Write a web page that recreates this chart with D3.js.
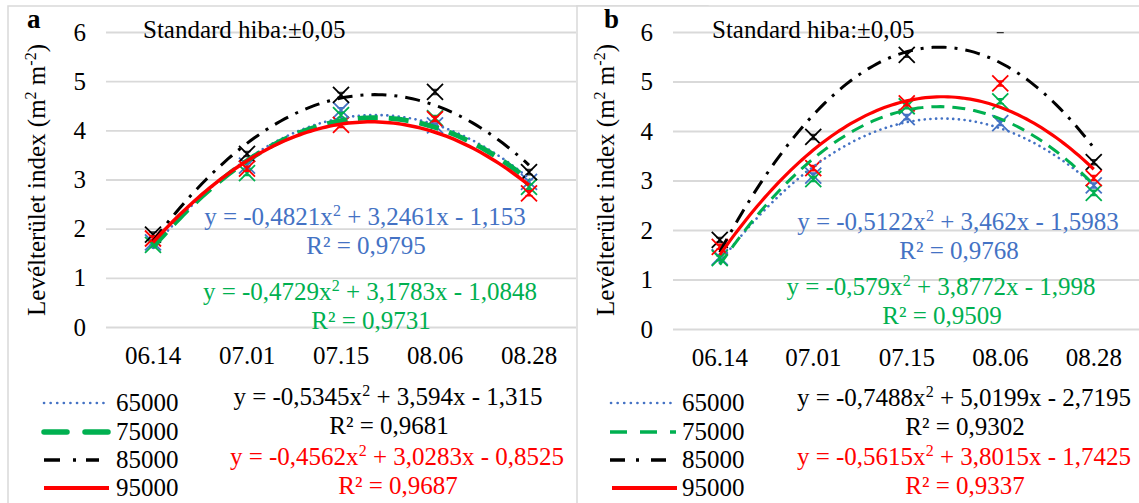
<!DOCTYPE html>
<html><head><meta charset="utf-8">
<script src="https://cdn.jsdelivr.net/npm/d3@7"></script>
<style>body{margin:0;background:#fff} svg{display:block} text{font-family:"Liberation Serif","Times New Roman",serif}</style>
</head><body><svg id="c" width="1139" height="503"></svg>
<script>
// ---------------- DATA ----------------
const categories = ["06.14", "07.01", "07.15", "08.06", "08.28"];
const seriesNames = ["65000", "75000", "85000", "95000"];
const yTicks = [0, 1, 2, 3, 4, 5, 6];

// panel a measured values
const a65000 = [1.72, 3.28, 4.41, 4.10, 2.95];
const a75000 = [1.67, 3.13, 4.31, 4.25, 2.85];
const a85000 = [1.88, 3.52, 4.72, 4.78, 3.15];
const a95000 = [1.80, 3.22, 4.11, 4.23, 2.72];
// panel b measured values
const b65000 = [1.45, 3.10, 4.28, 4.16, 2.90];
const b75000 = [1.43, 3.03, 4.50, 4.60, 2.75];
const b85000 = [1.80, 3.88, 5.54, 6.04, 3.37];
const b95000 = [1.66, 3.25, 4.56, 4.96, 3.05];

// polynomial trendline coefficients shown on the chart [x², x, const]
const aTrend65000 = [-0.4821, 3.2461, -1.153];
const aTrend75000 = [-0.4729, 3.1783, -1.0848];
const aTrend85000 = [-0.5345, 3.594, -1.315];
const aTrend95000 = [-0.4562, 3.0283, -0.8525];
const bTrend65000 = [-0.5122, 3.462, -1.5983];
const bTrend75000 = [-0.579, 3.8772, -1.998];
const bTrend85000 = [-0.7488, 5.0199, -2.7195];
const bTrend95000 = [-0.5615, 3.8015, -1.7425];
const aR2 = ["0,9795", "0,9731", "0,9681", "0,9687"];
const bR2 = ["0,9768", "0,9509", "0,9302", "0,9337"];

const standardError = 0.05;
const noteText = "Standard hiba:±0,05";
const panelLetters = ["a", "b"];

// ---------------- STYLE / LAYOUT ----------------
const colors = ["#4472C4", "#00B050", "#000000", "#FF0000"];
const FONT = 25;
const SERIF = '"Liberation Serif","Times New Roman",serif';
const svg = d3.select("#c");
svg.append("rect").attr("width", 1139).attr("height", 503).attr("fill", "#fff");

const panels = [
  {
    letter: panelLetters[0], frameX: 8, plotX: [106, 576], plotY: [327, 32],
    values: [a65000, a75000, a85000, a95000],
    coefs: [aTrend65000, aTrend75000, aTrend85000, aTrend95000], r2: aR2,
    lineStyles: [
      {w: 2.6, dash: "0.1 5.6", cap: "round"},
      {w: 5, dash: "20 11", cap: "butt"},
      {w: 3, dash: "15 8 3 8", cap: "butt"},
      {w: 3.5, dash: null, cap: "butt"}
    ],
    legendLines: [
      {x1: 44, x2: 106, w: 2.6, dash: "0.1 6.5", cap: "round"},
      {x1: 44, x2: 109, w: 5.5, dash: "23 18", cap: "round"},
      {x1: 44, x2: 99, w: 3.5, dash: "16 13 3 10", cap: "butt"},
      {x1: 44, x2: 109, w: 4, dash: null, cap: "butt"}
    ],
    legendTextX: 116,
    eqPos: [[365, 225], [370, 300], [388, 405], [397, 465]],
    noteX: 143, letterX: 27, titleX: 45
  },
  {
    letter: panelLetters[1], frameX: 577, plotX: [673, 1140.5], plotY: [329, 32],
    values: [b65000, b75000, b85000, b95000],
    coefs: [bTrend65000, bTrend75000, bTrend85000, bTrend95000], r2: bR2,
    lineStyles: [
      {w: 2.6, dash: "0.1 5.6", cap: "round"},
      {w: 3, dash: "13 8", cap: "butt"},
      {w: 3, dash: "15 8 3 8", cap: "butt"},
      {w: 3.2, dash: null, cap: "butt"}
    ],
    legendLines: [
      {x1: 611, x2: 674, w: 2.6, dash: "0.1 6.5", cap: "round"},
      {x1: 610, x2: 676, w: 3.5, dash: "17 13", cap: "butt"},
      {x1: 610, x2: 666, w: 3.5, dash: "15 11 3 12", cap: "butt"},
      {x1: 612, x2: 677, w: 4, dash: null, cap: "butt"}
    ],
    legendTextX: 682,
    eqPos: [[958, 230], [941, 295], [964, 406], [964, 465]],
    noteX: 712, letterX: 604, titleX: 614
  }
];
const legendRowY = [411, 440, 468, 496];
const r2Offset = 29;

function fmtNum(v) { return String(Math.abs(v)).replace(".", ","); }

panels.forEach((p, pi) => {
  const g = svg.append("g");
  // frame
  g.append("rect").attr("x", p.frameX).attr("y", 6).attr("width", 700).attr("height", 600)
    .attr("fill", "#fff").attr("stroke", "#d9d9d9").attr("stroke-width", 1.5);

  const x = d3.scaleBand().domain(categories).range(p.plotX);
  const y = d3.scaleLinear().domain([0, 6]).range(p.plotY);
  const xc = d3.scaleLinear().domain([1, categories.length])
    .range([x(categories[0]) + x.bandwidth() / 2, x(categories[categories.length - 1]) + x.bandwidth() / 2]);

  const clipId = "clip" + pi;
  g.append("clipPath").attr("id", clipId).append("rect")
    .attr("x", p.plotX[0]).attr("y", p.plotY[1]).attr("width", p.plotX[1] - p.plotX[0]).attr("height", p.plotY[0] - p.plotY[1]);

  // y axis with gridlines
  const yAx = g.append("g").attr("transform", `translate(${p.plotX[0]},0)`)
    .call(d3.axisLeft(y).tickValues(yTicks).tickSize(-(p.plotX[1] - p.plotX[0])).tickPadding(20).tickFormat(d3.format("d")));
  yAx.attr("font-family", SERIF);
  yAx.select(".domain").remove();
  yAx.selectAll(".tick line").attr("stroke", "#d9d9d9").attr("stroke-width", 1.8);
  yAx.selectAll(".tick text").attr("font-size", FONT).attr("fill", "#000");

  // x axis
  const xAx = g.append("g").attr("transform", `translate(0,${p.plotY[0]})`)
    .call(d3.axisBottom(x).tickSize(0).tickPadding(0));
  xAx.attr("font-family", SERIF);
  xAx.select(".domain").remove();
  xAx.selectAll(".tick text").attr("font-size", FONT).attr("fill", "#000").attr("dy", 0).attr("y", 37);

  // y title
  const t = g.append("text").attr("transform", `translate(${p.titleX},180) rotate(-90)`)
    .attr("text-anchor", "middle").attr("font-size", FONT).attr("fill", "#000");
  t.append("tspan").text("Levélterület index (m");
  t.append("tspan").attr("dy", -9).attr("font-size", 16).text("2");
  t.append("tspan").attr("dy", 9).text(" m");
  t.append("tspan").attr("dy", -9).attr("font-size", 16).text("-2");
  t.append("tspan").attr("dy", 9).text(")");

  // letter and note
  g.append("text").attr("x", p.letterX).attr("y", 28).attr("font-size", 27).attr("font-weight", "bold").text(p.letter);
  g.append("text").attr("x", p.noteX).attr("y", 38).attr("font-size", FONT).text(noteText);

  const plot = g.append("g").attr("clip-path", `url(#${clipId})`);
  const sz = 8;
  // error bars (±standard error) then markers
  p.values.forEach((vals, si) => {
    const sg = plot.append("g");
    vals.forEach((v, i) => {
      const cx = x(categories[i]) + x.bandwidth() / 2;
      const y1 = y(v - standardError), y2 = y(v + standardError);
      sg.append("path").attr("d", `M${cx},${y1}V${y2}M${cx - 3.5},${y1}H${cx + 3.5}M${cx - 3.5},${y2}H${cx + 3.5}`)
        .attr("stroke", si === 2 ? "#333" : colors[si]).attr("stroke-width", 1.6).attr("fill", "none");
    });
    vals.forEach((v, i) => {
      if (v > 6) return;
      const cx = x(categories[i]) + x.bandwidth() / 2;
      const cy = y(v);
      sg.append("path").attr("d", `M${cx - sz},${cy - sz}L${cx + sz},${cy + sz}M${cx - sz},${cy + sz}L${cx + sz},${cy - sz}`)
        .attr("stroke", colors[si]).attr("stroke-width", 1.8).attr("fill", "none");
    });
  });
  // polynomial trendlines from displayed coefficients
  p.coefs.forEach((c, si) => {
    const pts = d3.range(1, 5.0001, 0.04).map(t => ({t, v: c[0] * t * t + c[1] * t + c[2]}));
    const st = p.lineStyles[si];
    plot.append("path").datum(pts)
      .attr("d", d3.line().x(d => xc(d.t)).y(d => y(d.v)))
      .attr("fill", "none").attr("stroke", colors[si]).attr("stroke-width", st.w)
      .attr("stroke-dasharray", st.dash).attr("stroke-linecap", st.cap);
  });

  // equations
  p.coefs.forEach((c, si) => {
    const [ex, ey] = p.eqPos[si];
    const te = g.append("text").attr("x", ex).attr("y", ey).attr("text-anchor", "middle")
      .attr("font-size", FONT).attr("fill", colors[si]);
    te.append("tspan").text(`y = ${c[0] < 0 ? "-" : ""}${fmtNum(c[0])}x`);
    te.append("tspan").attr("dy", -9).attr("font-size", 16).text("2");
    te.append("tspan").attr("dy", 9).text(` ${c[1] < 0 ? "-" : "+"} ${fmtNum(c[1])}x ${c[2] < 0 ? "-" : "+"} ${fmtNum(c[2])}`);
    g.append("text").attr("x", ex + 1).attr("y", ey + r2Offset).attr("text-anchor", "middle")
      .attr("font-size", FONT).attr("fill", colors[si]).text(`R² = ${p.r2[si]}`);
  });

  // legend
  seriesNames.forEach((name, si) => {
    const L = p.legendLines[si];
    const ly = legendRowY[si] - 8;
    g.append("line").attr("x1", L.x1).attr("x2", L.x2).attr("y1", ly).attr("y2", ly)
      .attr("stroke", colors[si]).attr("stroke-width", L.w).attr("stroke-dasharray", L.dash).attr("stroke-linecap", L.cap);
    g.append("text").attr("x", p.legendTextX).attr("y", legendRowY[si]).attr("font-size", FONT).attr("fill", "#000").text(name);
  });
});
</script></body></html>
